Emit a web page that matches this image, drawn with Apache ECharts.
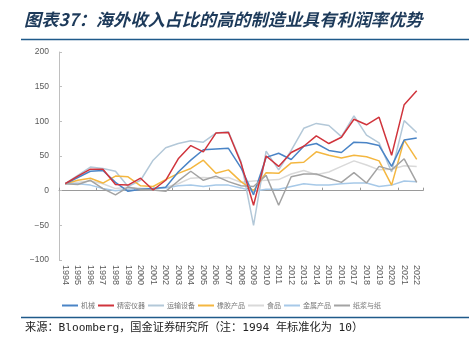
<!DOCTYPE html>
<html>
<head>
<meta charset="utf-8">
<script src="https://cdn.jsdelivr.net/npm/echarts@6/dist/echarts.min.js"></script>
<style>
html,body{margin:0;padding:0;background:#fff;}
#chart{width:469px;height:351px;}
</style>
</head>
<body>
<div id="chart"></div>
<script>
const years = ['1994','1995','1996','1997','1998','1999','2000','2001','2002','2003','2004','2005','2006','2007','2008','2009','2010','2011','2012','2013','2014','2015','2016','2017','2018','2019','2020','2021','2022'];
const yTicks = [-100, -50, 0, 50, 100, 150, 200];

const jixie     = [10,19,28,29,12,-1,2,3,5,27,44,59,60,61,33,-6,48,54,45,64,68,58,55,70,69,65,35,73,76];
const jingmi    = [10,21,31,31,9,8,18,1,15,46,65,56,83,84,40,-21,50,35,55,64,79,68,77,103,95,106,51,124,144];
const yunshu    = [10,22,34,32,28,6,15,44,62,68,72,70,83,85,42,-50,57,30,58,90,97,94,78,108,80,69,27,101,84];
const xiangjiao = [10,15,18,11,21,20,7,6,16,25,32,44,25,30,13,0,26,25,40,41,56,51,47,51,49,43,8,73,45];
const shipin    = [10,12,14,10,3,5,3,2,5,10,18,19,18,19,12,14,15,16,24,29,23,27,35,43,37,30,31,36,35];
const jinshu    = [10,10,8,3,0,2,3,3,4,7,8,6,8,8,4,-1,2,2,6,10,8,8,10,11,11,6,8,14,13];
const zhijiang  = [10,9,15,3,-6,5,2,1,-1,14,28,15,21,13,7,6,22,-21,20,24,24,18,12,26,11,35,30,46,12];

const names = ['机械','精密仪器','运输设备','橡胶产品','食品','金属产品','纸浆与纸'];
const seriesData = [jixie, jingmi, yunshu, xiangjiao, shipin, jinshu, zhijiang];
const colors = ['#4a84c6','#d0343c','#b3c8d8','#f4b740','#d9d9d9','#a7c9e8','#a3a3a3'];
const zOrder = [5,7,3,4,1,2,6];

const chart = echarts.init(document.getElementById('chart'), null, {renderer:'canvas'});

const series = names.map((n, i) => ({
  name: n,
  type: 'line',
  data: seriesData[i],
  xAxisIndex: 0,
  yAxisIndex: 0,
  symbol: 'none',
  smooth: false,
  z: zOrder[i],
  lineStyle: {width: 1.5, color: colors[i]},
  itemStyle: {color: colors[i]}
}));

chart.setOption({
  animation: false,
  backgroundColor: '#ffffff',
  title: {
    text: '图表37：海外收入占比的高的制造业具有利润率优势',
    left: 24, top: 11, padding: 0,
    textStyle: {fontSize: 17.2, fontStyle: 'italic', fontWeight: 'bold', color: '#1d3a5a', fontFamily: '"Noto Sans CJK SC", sans-serif'}
  },
  grid: {left: 59, right: 46, top: 52, bottom: 91, containLabel: false},
  legend: {
    data: names,
    left: 57, top: 297,
    icon: 'rect', itemWidth: 16, itemHeight: 2, itemGap: 3,
    textStyle: {fontSize: 7, color: '#777777', fontFamily: '"Noto Sans CJK SC", sans-serif', padding: [0,0,0,-2]}
  },
  xAxis: [
    {
      type: 'category', data: years, boundaryGap: true, position: 'bottom',
      axisLine: {show: true, onZero: true, lineStyle: {color: '#9a9a9a', width: 1}},
      axisTick: {show: true, inside: true, length: 3, lineStyle: {color: '#9a9a9a'}},
      axisLabel: {show: false},
      splitLine: {show: false}
    },
    {
      type: 'category', data: years, boundaryGap: true, position: 'bottom',
      axisLine: {show: false, onZero: false},
      axisTick: {show: false},
      axisLabel: {show: true, interval: 0, rotate: -90, margin: 5, fontSize: 9, color: '#595959', fontFamily: 'Liberation Sans, Arial, sans-serif'},
      splitLine: {show: false}
    }
  ],
  yAxis: {
    type: 'value', min: yTicks[0], max: yTicks[yTicks.length-1], interval: 50,
    axisLine: {show: true, lineStyle: {color: '#bfbfbf', width: 1}},
    axisTick: {show: true, inside: true, length: 3, lineStyle: {color: '#bfbfbf'}},
    axisLabel: {fontSize: 8.5, color: '#595959', margin: 10, fontFamily: 'Liberation Sans, Arial, sans-serif',
      formatter: v => (v < 0 ? '\u2212' + Math.abs(v) : String(v))},
    splitLine: {show: false}
  },
  graphic: [
    {type: 'line', shape: {x1: 21, y1: 39.5, x2: 469, y2: 39.5}, style: {stroke: '#1f5a8a', lineWidth: 1.5}},
    {type: 'line', shape: {x1: 21, y1: 317.5, x2: 469, y2: 317.5}, style: {stroke: '#1f5a8a', lineWidth: 1.5}},
    {type: 'text', left: 25, top: 322, style: {text: '来源：Bloomberg，国金证券研究所（注：1994 年标准化为 10）', fontSize: 11.2, fill: '#222222', fontFamily: '"DejaVu Sans Mono", "Noto Sans CJK SC", monospace'}}
  ],
  series: series
});
</script>
</body>
</html>
